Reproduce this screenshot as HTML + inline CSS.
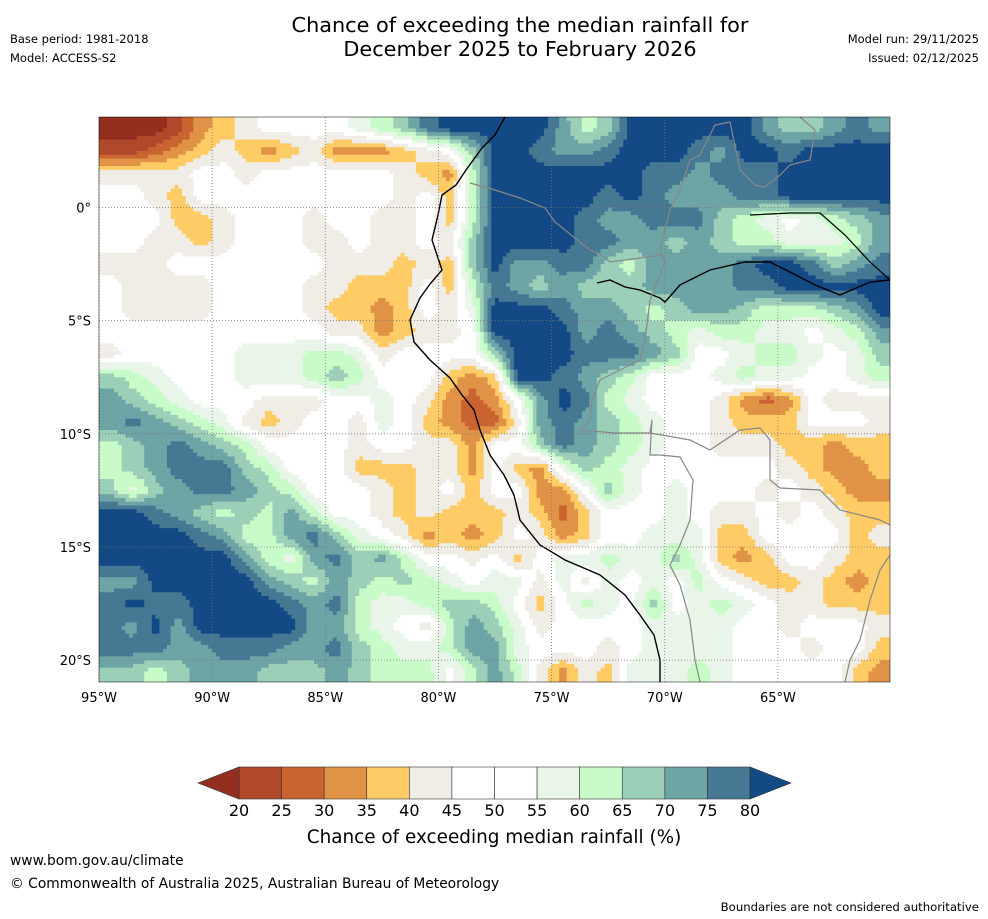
<!DOCTYPE html>
<html><head><meta charset="utf-8"><style>
html,body{margin:0;padding:0;background:#fff;width:988px;height:919px;overflow:hidden;font-family:"DejaVu Sans","Liberation Sans",sans-serif;}
svg text{font-family:"DejaVu Sans","Liberation Sans",sans-serif;}
</style></head><body>
<svg id="root" width="988" height="919" viewBox="0 0 988 919">
<text x="520" y="32" text-anchor="middle" font-size="20.8" fill="#000">Chance of exceeding the median rainfall for</text>
<text x="520" y="56" text-anchor="middle" font-size="20.8" fill="#000">December 2025 to February 2026</text>
<text x="10" y="43" font-size="11.5">Base period: 1981-2018</text>
<text x="10" y="62" font-size="11.5">Model: ACCESS-S2</text>
<text x="979" y="43" font-size="11.5" text-anchor="end">Model run: 29/11/2025</text>
<text x="979" y="62" font-size="11.5" text-anchor="end">Issued: 02/12/2025</text>
<defs><clipPath id="mapclip"><rect x="99" y="117" width="791" height="565"/></clipPath></defs>
<g id="map" clip-path="url(#mapclip)"></g>
<g id="lines" clip-path="url(#mapclip)">
<polyline fill="none" stroke="#000" stroke-width="1.4" points="505,117 495,135 482,148 466,170 456,185 442,195 438,215 432,240 438,258 442,270 430,284 420,298 410,320 414,342 430,360 450,378 462,395 474,410 480,430 490,455 504,475 514,495 520,520 540,545 565,560 600,575 625,595 640,615 654,635 660,660 660,682"/>
<polyline fill="none" stroke="#000" stroke-width="1.4" points="597,283 610,280 625,287 640,290 660,298 665,302 680,285 710,270 745,262 770,262 790,272 815,285 840,295 870,282 890,280"/>
<polyline fill="none" stroke="#000" stroke-width="1.2" points="750,215 790,213 820,213 845,235 870,262 890,280"/>
<polyline fill="none" stroke="#888" stroke-width="1.2" points="470,183 495,190 520,198 545,208 555,222 590,250 600,254 610,262 640,258 660,255 665,262 650,300 645,340 640,360 620,370 600,380 592,400 590,420 580,430"/>
<polyline fill="none" stroke="#888" stroke-width="1.2" points="665,262 660,250 670,210 680,190 690,160 700,155 715,125 730,122 740,170 755,185 765,187 780,175 790,165 810,160 815,130 800,117"/>
<polyline fill="none" stroke="#888" stroke-width="1.2" points="580,430 615,433 650,433 652,420 650,455 660,455 680,457 693,480 690,520 680,545 670,565 680,585 690,620 695,660 700,682"/>
<polyline fill="none" stroke="#888" stroke-width="1.2" points="650,433 690,440 710,450 740,430 760,428 770,440 770,480 780,488 820,490 840,510 880,520 890,525"/>
<polyline fill="none" stroke="#888" stroke-width="1.2" points="890,555 880,570 870,600 860,640 850,660 845,682"/>
</g>
<g id="grid"></g>
<rect x="99" y="117" width="791" height="565" fill="none" stroke="#000" stroke-width="0.5"/>
<g id="xticks"></g>
<g id="yticks"></g>
<g id="colorbar"></g>
<text x="494" y="843" text-anchor="middle" font-size="18.4">Chance of exceeding median rainfall (%)</text>
<text x="10" y="865" font-size="13.8">www.bom.gov.au/climate</text>
<text x="10" y="888" font-size="13.8">© Commonwealth of Australia 2025, Australian Bureau of Meteorology</text>
<text x="979" y="911" font-size="11.7" text-anchor="end">Boundaries are not considered authoritative</text>
</svg>
<script>
// Class colours (index 0..12): <20, 20-25, 25-30, 30-35, 35-40, 40-45, 45-55, 55-60, 60-65, 65-70, 70-75, 75-80, >80
const classColors = ["#942f20","#b0482a","#c96431","#e09347","#fecb65","#f0ece6","#ffffff","#e9f5e9","#c9fbc9","#9ccfb8","#6da4a6","#447893","#134a85"];
const boundaries = [20,25,30,35,40,45,50,55,60,65,70,75,80];
const binClasses = [1,2,3,4,5,6,6,7,8,9,10,11];
const lonTicks = [-95,-90,-85,-80,-75,-70,-65];
const latTicks = [0,-5,-10,-15,-20];
// 1-degree grid, 95W..60W (35 cols), 4N..21S (25 rows); each char = class index (hex)
const gridRows = [
"00013456666789bccccca89cccccca99aba",
"11234543453334569ccbaabcccbaccbcccc",
"55556656666665438cccccccbbabbbccccc",
"66546666666665648cccccbcbaaabbccccc",
"66644566656655648ccccbaabbb9876789a",
"66554566655655659ccccbbaa9a9887778a",
"55566666665554549caabb98aaaabccb9ab",
"65555666655444648ba9a999aaaabbccccc",
"65555666654434657cccbaa989aa98889ac",
"66666666665534556ccccaba9878877678a",
"566666777887566669cccbbba9667887679",
"987666777898666434ccba9866678776678",
"a987666555667653236acb8766653236555",
"aba9875456657643225aba9876654446665",
"89aba986666566553669ba9876655544344",
"89abbb98666444553643798766666654334",
"979abba9866654564663369767666565433",
"ccba9898a86654544454246667655656544",
"ccccba88ab9765343465346677744666645",
"cccccca87ab9a8665646778779743466544",
"aaccccca98a989876775757676865445434",
"bcbbccccbab877899864687696787655444",
"bacacccccaa87658a975666677776656665",
"bbbaabbbaab98778aa76665677776665664",
"9989aaa999a988868a85354777876666643"
];
const NS="http://www.w3.org/2000/svg";
const X0=99, Y0=117, PX=22.63; // pixels per degree
function lonToX(lon){return X0+(lon+95)*PX;}
function latToY(lat){return Y0+(4-lat)*PX;}
const ncol=35, nrow=25;
const vals=gridRows.map(r=>{const a=[];for(let i=0;i<ncol;i++){const c=r[i]||r[r.length-1];a.push(parseInt(c,16));}return a;});
function v(i,j){i=Math.max(0,Math.min(ncol-1,i));j=Math.max(0,Math.min(nrow-1,j));return vals[j][i];}
const SUB=6;
const map=document.getElementById('map');
for(let sj=0;sj<nrow*SUB;sj++){
  const fy=(sj+0.5)/SUB-0.5; const j0=Math.floor(fy), ty=fy-j0;
  let runStart=0, runCls=-1;
  const flush=(end)=>{
    if(runCls<0)return;
    const r=document.createElementNS(NS,'rect');
    const x=X0+runStart*PX/SUB, y=Y0+sj*PX/SUB;
    r.setAttribute('x',x.toFixed(2));r.setAttribute('y',y.toFixed(2));
    r.setAttribute('width',((end-runStart)*PX/SUB+0.6).toFixed(2));
    r.setAttribute('height',(PX/SUB+0.6).toFixed(2));
    r.setAttribute('fill',classColors[runCls]);
    
    
    map.appendChild(r);
  };
  for(let si=0;si<ncol*SUB;si++){
    const fx=(si+0.5)/SUB-0.5; const i0=Math.floor(fx), tx=fx-i0;
    const val=v(i0,j0)*(1-tx)*(1-ty)+v(i0+1,j0)*tx*(1-ty)+v(i0,j0+1)*(1-tx)*ty+v(i0+1,j0+1)*tx*ty;
    const cls=Math.max(0,Math.min(12,Math.round(val)));
    if(cls!==runCls){flush(si);runStart=si;runCls=cls;}
  }
  flush(ncol*SUB);
}
// graticule
const grid=document.getElementById('grid');
lonTicks.forEach(lon=>{const l=document.createElementNS(NS,'line');const x=lonToX(lon);
l.setAttribute('x1',x);l.setAttribute('x2',x);l.setAttribute('y1',117);l.setAttribute('y2',682);
l.setAttribute('stroke','#777');l.setAttribute('stroke-width','0.8');l.setAttribute('stroke-dasharray','1,2');


grid.appendChild(l);});
latTicks.forEach(lat=>{const l=document.createElementNS(NS,'line');const y=latToY(lat);
l.setAttribute('x1',99);l.setAttribute('x2',890);l.setAttribute('y1',y);l.setAttribute('y2',y);
l.setAttribute('stroke','#777');l.setAttribute('stroke-width','0.8');l.setAttribute('stroke-dasharray','1,2');


grid.appendChild(l);});
const xt=document.getElementById('xticks');
lonTicks.forEach(lon=>{const t=document.createElementNS(NS,'text');t.setAttribute('x',lonToX(lon));t.setAttribute('y',702);
t.setAttribute('text-anchor','middle');t.setAttribute('font-size','13');t.textContent=Math.abs(lon)+'°W';


xt.appendChild(t);});
const yt=document.getElementById('yticks');
latTicks.forEach(lat=>{const t=document.createElementNS(NS,'text');t.setAttribute('x',91);t.setAttribute('y',latToY(lat)+5);
t.setAttribute('text-anchor','end');t.setAttribute('font-size','13');t.textContent=lat===0?'0°':Math.abs(lat)+'°S';


yt.appendChild(t);});
// colorbar
const cb=document.getElementById('colorbar');
const CBX0=239, CBX1=750, CBY=767, CBH=32;
const bw=(CBX1-CBX0)/(boundaries.length-1);
for(let k=0;k<boundaries.length-1;k++){
  const r=document.createElementNS(NS,'rect');
  r.setAttribute('x',CBX0+k*bw);r.setAttribute('y',CBY);r.setAttribute('width',bw);r.setAttribute('height',CBH);
  r.setAttribute('fill',classColors[binClasses[k]]);r.setAttribute('stroke','#333');r.setAttribute('stroke-width','0.6');
  
  
  cb.appendChild(r);
}
const tl=document.createElementNS(NS,'polygon');
tl.setAttribute('points',`${CBX0},${CBY} ${CBX0},${CBY+CBH} 198,${CBY+CBH/2}`);tl.setAttribute('fill',classColors[0]);tl.setAttribute('stroke','#333');tl.setAttribute('stroke-width','0.6');


cb.appendChild(tl);
const tr=document.createElementNS(NS,'polygon');
tr.setAttribute('points',`${CBX1},${CBY} ${CBX1},${CBY+CBH} 791,${CBY+CBH/2}`);tr.setAttribute('fill',classColors[12]);tr.setAttribute('stroke','#333');tr.setAttribute('stroke-width','0.6');


cb.appendChild(tr);
boundaries.forEach((b,k)=>{const t=document.createElementNS(NS,'text');t.setAttribute('x',CBX0+k*bw);t.setAttribute('y',816);
t.setAttribute('text-anchor','middle');t.setAttribute('font-size','16');t.textContent=b;


cb.appendChild(t);});
</script>
</body></html>
